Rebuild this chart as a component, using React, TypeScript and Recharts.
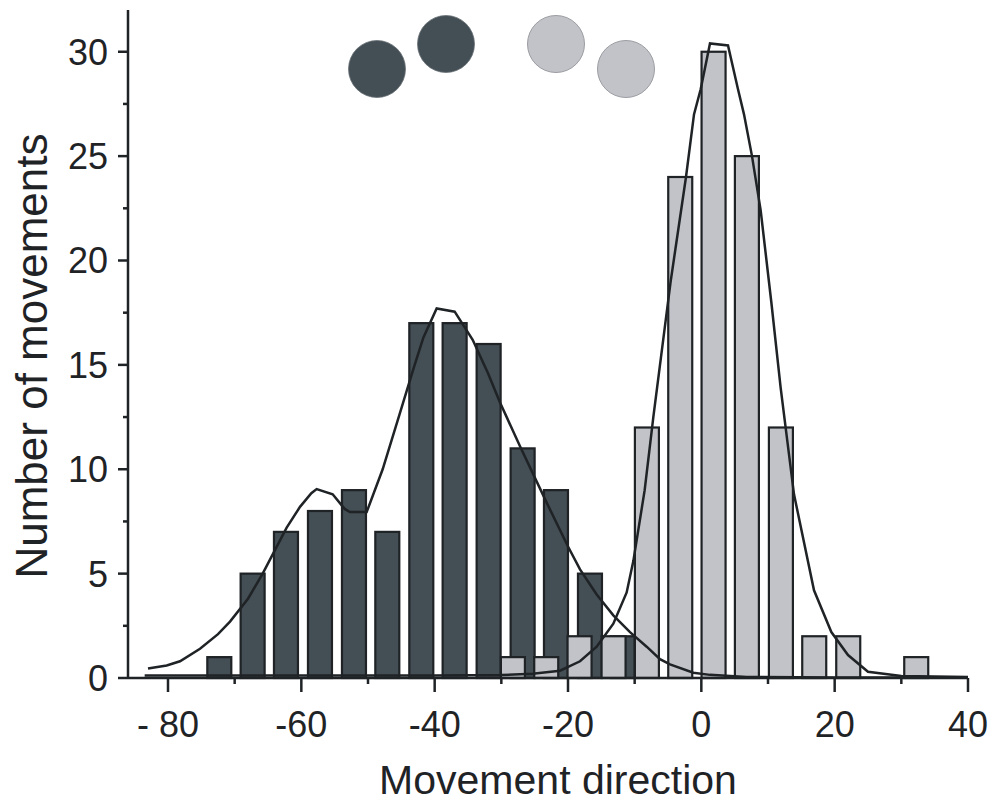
import React from 'react';
import { ComposedChart, Bar, Line, XAxis, YAxis, Label } from 'recharts';

// histogram bins (bin centre in degrees) and counts
const darkBinCenters = [-72.3, -67.3, -62.3, -57.2, -52.1, -47.1, -42, -37, -31.9, -26.8, -21.8, -16.7, -11.8];
const darkCounts = [1, 5, 7, 8, 9, 7, 17, 17, 16, 11, 9, 5, 2];
const lightBinCenters = [-28.2, -23.2, -18.2, -13.1, -8.1, -3.1, 1.9, 6.9, 12, 17, 22.1, 32.3];
const lightCounts = [1, 1, 2, 2, 12, 24, 30, 25, 12, 2, 2, 1];

// fitted density curves
const darkCurveX = [-83, -80.2, -78.2, -75.2, -72.5, -70.7, -68, -65.8, -64, -62.2, -60.2, -58.5, -57.7, -55.3, -53.5, -52.7, -50.2, -47.8, -45.2, -43.2, -41.7, -39.7, -37, -34.3, -32, -30.2, -27.2, -23.2, -20, -18.2, -15.7, -13.2, -10.7, -8.2, -6.2, -4.7, -1.2, 1.3, 6.8, 20, 40];
const darkCurveY = [0.45, 0.6, 0.8, 1.4, 2.1, 2.7, 3.8, 5.0, 6.1, 7.2, 8.2, 8.85, 9.05, 8.8, 8.1, 7.95, 7.95, 10.0, 12.7, 14.8, 16.3, 17.7, 17.55, 16.2, 14.6, 13.2, 11.1, 8.4, 6.3, 5.2, 4.0, 3.0, 2.2, 1.5, 0.9, 0.65, 0.25, 0.15, 0.05, 0.02, 0.02];
const lightCurveX = [-83.5, -60, -40, -30, -25.3, -21.2, -18.2, -15.7, -13.2, -11.2, -10.2, -8.5, -7.2, -4.6, -2.3, -1.1, -0.1, 1.3, 4.0, 5.5, 6.4, 7.6, 8.9, 10.5, 11.9, 13.9, 16.9, 19.5, 22, 25, 30, 40];
const lightCurveY = [0.12, 0.12, 0.12, 0.14, 0.2, 0.35, 0.8, 1.5, 2.6, 4.1, 5.6, 9, 12.5, 19, 24, 27, 28.2, 30.4, 30.3, 28.2, 27, 25, 22.4, 18, 13.9, 8.8, 4.2, 2.2, 1.1, 0.3, 0.1, 0.05];

const xTicks = [-80, -70, -60, -50, -40, -30, -20, -10, 0, 10, 20, 30, 40];
const yTicks = [0, 2.5, 5, 7.5, 10, 12.5, 15, 17.5, 20, 22.5, 25, 27.5, 30];

const INK = '#1f2326';
const DARK = '#444e55';
const LIGHT = '#c2c3c8';
const FONT = '"Liberation Sans", Arial, Helvetica, sans-serif';
const BAR_W = 24;
const X_TICK_SIZE = 14;
const X_TICK_MARGIN = 19;
const Y_TICK_SIZE = 10;
const Y_TICK_MARGIN = 10;

const barRows = [
    ...darkBinCenters.map((x, i) => ({ x, dark: darkCounts[i] })),
    ...lightBinCenters.map((x, i) => ({ x, light: lightCounts[i] })),
].sort((a, b) => a.x - b.x);

const darkCurve = darkCurveX.map((x, i) => ({ x, y: darkCurveY[i] }));
const lightCurve = lightCurveX.map((x, i) => ({ x, y: lightCurveY[i] }));

// keep the bar centred on its value, fixed width
const HistBar = (props: any) => {
    const { x, y, width, height, fill } = props;
    if (!height || isNaN(height) || isNaN(x) || isNaN(y)) return <g />;
    const cx = x + width / 2;
    return <rect x={cx - BAR_W / 2} y={y} width={BAR_W} height={height} fill={fill} stroke={INK} strokeWidth={2.2} />;
};

const XTick = (props: any) => {
    const { x, y, payload } = props;
    const v = payload.value;
    const major = v % 20 === 0;
    const axisY = y - X_TICK_SIZE - X_TICK_MARGIN;
    return (
        <g>
            <line x1={x} x2={x} y1={axisY} y2={axisY + (major ? X_TICK_SIZE : 6)} stroke={INK} strokeWidth={2.5} />
            {major && (
                <text x={x} y={y} dy="0.71em" textAnchor="middle" fontSize={36} fontFamily={FONT} fill={INK}>
                    {v === -80 ? '- 80' : v}
                </text>
            )}
        </g>
    );
};

const YTick = (props: any) => {
    const { x, y, payload } = props;
    const v = payload.value;
    const major = v % 5 === 0;
    const axisX = x + Y_TICK_SIZE + Y_TICK_MARGIN;
    return (
        <g>
            <line x1={axisX} x2={axisX - (major ? Y_TICK_SIZE : 5)} y1={y} y2={y} stroke={INK} strokeWidth={2.5} />
            {major && (
                <text x={x} y={y} dy="0.36em" textAnchor="end" fontSize={36} fontFamily={FONT} fill={INK}>
                    {v}
                </text>
            )}
        </g>
    );
};

const XTitle = () => (
    <text x={558} y={794} textAnchor="middle" fontSize={41} fontFamily={FONT} fill={INK}>
        Movement direction
    </text>
);

const YTitle = () => (
    <text x={47} y={356} transform="rotate(-90 47 356)" textAnchor="middle" fontSize={44} fontFamily={FONT} fill={INK}>
        Number of movements
    </text>
);

export default function App() {
    return (
        <div style={{ position: 'absolute', left: 0, top: 0, width: 998, height: 804, background: '#fff', fontFamily: FONT }}>
            <ComposedChart width={998} height={804} data={barRows} margin={{ top: 10, right: 30, bottom: 0, left: 0 }}>
                <XAxis
                    xAxisId="main"
                    type="number"
                    dataKey="x"
                    domain={[-86, 40]}
                    ticks={xTicks}
                    interval={0}
                    height={126}
                    tickSize={X_TICK_SIZE}
                    tickMargin={X_TICK_MARGIN}
                    tickLine={false}
                    tick={XTick}
                    axisLine={{ stroke: INK, strokeWidth: 2.5 }}
                >
                    <Label content={XTitle} />
                </XAxis>
                <XAxis xAxisId="light" orientation="top" type="number" dataKey="x" domain={[-86, 40]} height={0} hide />
                <YAxis
                    type="number"
                    domain={[0, 32]}
                    ticks={yTicks}
                    interval={0}
                    width={128}
                    tickSize={Y_TICK_SIZE}
                    tickMargin={Y_TICK_MARGIN}
                    tickLine={false}
                    tick={YTick}
                    axisLine={{ stroke: INK, strokeWidth: 2.5 }}
                >
                    <Label content={YTitle} />
                </YAxis>
                <Bar xAxisId="main" dataKey="dark" fill={DARK} barSize={BAR_W} shape={HistBar} isAnimationActive={false} />
                <Bar xAxisId="light" dataKey="light" fill={LIGHT} barSize={BAR_W} shape={HistBar} isAnimationActive={false} />
                <Line xAxisId="main" data={darkCurve} dataKey="y" type="linear" stroke={INK} strokeWidth={2.5} dot={false} activeDot={false} isAnimationActive={false} />
                <Line xAxisId="main" data={lightCurve} dataKey="y" type="linear" stroke={INK} strokeWidth={2.5} dot={false} activeDot={false} isAnimationActive={false} />
            </ComposedChart>
            {/* series key: two dark and two light discs */}
            <svg width={998} height={110} style={{ position: 'absolute', left: 0, top: 0, pointerEvents: 'none' }}>
                <circle cx={377} cy={69} r={28.5} fill={DARK} stroke="#6b7378" strokeWidth={0.8} />
                <circle cx={446} cy={44} r={28.5} fill={DARK} stroke="#6b7378" strokeWidth={0.8} />
                <circle cx={556} cy={44} r={28.5} fill={LIGHT} stroke="#9c9da2" strokeWidth={1} />
                <circle cx={626} cy={69} r={28.5} fill={LIGHT} stroke="#9c9da2" strokeWidth={1} />
            </svg>
        </div>
    );
}
